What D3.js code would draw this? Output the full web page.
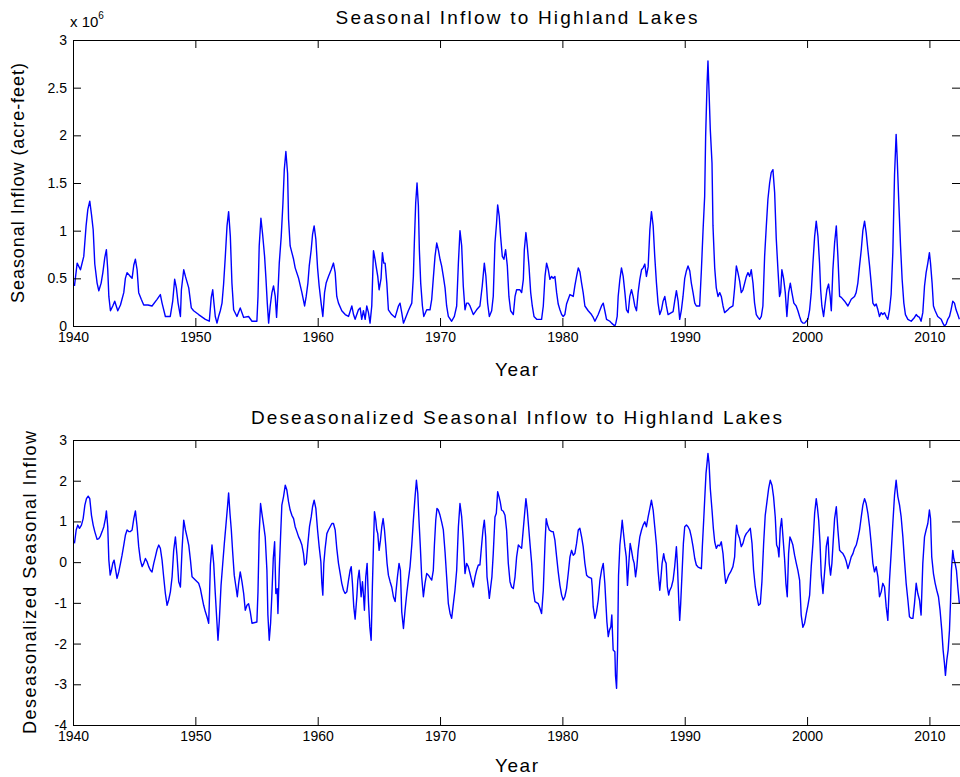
<!DOCTYPE html>
<html>
<head>
<meta charset="utf-8">
<script src="https://cdnjs.cloudflare.com/ajax/libs/d3/7.8.5/d3.min.js"></script>
<style>
  body { margin: 0; background: #fff; }
  svg text { font-family: "Liberation Sans", Arial, Helvetica, sans-serif; fill: #000; }
</style>
</head>
<body>
<div id="chart"></div>
<script>
// tick values
var yearTicks = [1940, 1950, 1960, 1970, 1980, 1990, 2000, 2010];
var inflowTicks = [0, 0.5, 1, 1.5, 2, 2.5, 3];
var deseasTicks = [-4, -3, -2, -1, 0, 1, 2, 3];

// seasonal inflow, [year, acre-feet x 10^6]
var inflow = [[1940.12,0.42],[1940.34,0.66],[1940.61,0.59],[1940.88,0.73],[1941.07,1.05],[1941.21,1.22],[1941.37,1.31],[1941.51,1.17],[1941.65,1.01],[1941.78,0.65],[1941.97,0.45],[1942.11,0.37],[1942.3,0.45],[1942.44,0.56],[1942.6,0.72],[1942.73,0.8],[1942.84,0.59],[1942.93,0.31],[1943.06,0.16],[1943.25,0.21],[1943.41,0.26],[1943.66,0.16],[1943.88,0.22],[1944.15,0.35],[1944.28,0.5],[1944.42,0.56],[1944.69,0.52],[1944.83,0.5],[1944.97,0.64],[1945.1,0.7],[1945.24,0.59],[1945.37,0.35],[1945.58,0.28],[1945.78,0.22],[1946.13,0.22],[1946.46,0.21],[1946.87,0.28],[1947.14,0.33],[1947.28,0.24],[1947.55,0.1],[1947.95,0.1],[1948.15,0.26],[1948.31,0.49],[1948.45,0.4],[1948.59,0.24],[1948.78,0.1],[1948.86,0.38],[1949.05,0.59],[1949.19,0.52],[1949.46,0.4],[1949.67,0.19],[1949.86,0.16],[1950.27,0.12],[1950.82,0.07],[1951.14,0.05],[1951.3,0.3],[1951.42,0.38],[1951.52,0.24],[1951.63,0.1],[1951.77,0.03],[1951.9,0.1],[1952.04,0.16],[1952.18,0.24],[1952.31,0.44],[1952.45,0.73],[1952.59,1.05],[1952.72,1.2],[1952.86,0.94],[1952.99,0.45],[1953.13,0.17],[1953.4,0.1],[1953.67,0.19],[1953.95,0.09],[1954.35,0.1],[1954.63,0.05],[1955.03,0.05],[1955.12,0.31],[1955.22,0.84],[1955.36,1.13],[1955.5,0.96],[1955.66,0.73],[1955.77,0.5],[1955.88,0.24],[1955.99,0.03],[1956.12,0.21],[1956.26,0.35],[1956.39,0.42],[1956.53,0.31],[1956.64,0.09],[1956.75,0.35],[1956.86,0.66],[1957.02,0.94],[1957.16,1.29],[1957.27,1.64],[1957.4,1.83],[1957.54,1.6],[1957.62,1.12],[1957.75,0.84],[1957.89,0.77],[1958.03,0.7],[1958.16,0.61],[1958.44,0.5],[1958.71,0.35],[1958.93,0.21],[1959.06,0.31],[1959.2,0.45],[1959.31,0.63],[1959.47,0.8],[1959.58,0.96],[1959.71,1.05],[1959.85,0.91],[1959.99,0.61],[1960.12,0.42],[1960.29,0.23],[1960.42,0.1],[1960.56,0.35],[1960.69,0.45],[1960.88,0.52],[1961.1,0.59],[1961.29,0.66],[1961.43,0.56],[1961.56,0.31],[1961.7,0.24],[1961.97,0.16],[1962.25,0.12],[1962.52,0.1],[1962.79,0.21],[1962.93,0.12],[1963.06,0.07],[1963.33,0.17],[1963.47,0.19],[1963.6,0.07],[1963.74,0.16],[1963.88,0.07],[1964.01,0.21],[1964.15,0.14],[1964.28,0.03],[1964.42,0.21],[1964.56,0.79],[1964.69,0.7],[1964.77,0.63],[1964.91,0.52],[1965.02,0.38],[1965.18,0.5],[1965.29,0.77],[1965.4,0.66],[1965.51,0.66],[1965.65,0.45],[1965.78,0.17],[1966.05,0.12],[1966.33,0.09],[1966.6,0.21],[1966.73,0.24],[1966.87,0.14],[1967.01,0.03],[1967.14,0.07],[1967.41,0.16],[1967.69,0.24],[1967.82,0.52],[1967.9,0.87],[1968.01,1.29],[1968.12,1.5],[1968.23,1.26],[1968.31,0.8],[1968.42,0.45],[1968.56,0.21],[1968.67,0.1],[1968.91,0.17],[1969.18,0.17],[1969.32,0.28],[1969.45,0.5],[1969.59,0.73],[1969.73,0.87],[1969.86,0.8],[1970,0.7],[1970.13,0.63],[1970.27,0.52],[1970.41,0.4],[1970.54,0.21],[1970.68,0.1],[1970.95,0.05],[1971.17,0.1],[1971.36,0.21],[1971.5,0.66],[1971.63,1],[1971.77,0.84],[1971.9,0.42],[1972.04,0.17],[1972.17,0.24],[1972.31,0.24],[1972.45,0.21],[1972.72,0.12],[1972.99,0.17],[1973.26,0.21],[1973.45,0.42],[1973.62,0.66],[1973.75,0.52],[1973.89,0.24],[1974.03,0.1],[1974.22,0.16],[1974.35,0.31],[1974.49,0.87],[1974.62,1.08],[1974.71,1.27],[1974.84,1.15],[1974.95,0.94],[1975.09,0.73],[1975.22,0.7],[1975.36,0.8],[1975.5,0.63],[1975.63,0.31],[1975.77,0.16],[1975.99,0.12],[1976.13,0.31],[1976.26,0.38],[1976.53,0.38],[1976.67,0.35],[1976.81,0.49],[1976.89,0.8],[1977.02,0.98],[1977.13,0.84],[1977.27,0.63],[1977.41,0.35],[1977.54,0.21],[1977.68,0.1],[1977.9,0.07],[1978.3,0.07],[1978.44,0.21],[1978.58,0.52],[1978.71,0.66],[1978.85,0.59],[1978.98,0.49],[1979.12,0.52],[1979.25,0.5],[1979.39,0.52],[1979.53,0.35],[1979.66,0.23],[1979.8,0.17],[1979.94,0.12],[1980.07,0.1],[1980.2,0.12],[1980.34,0.23],[1980.62,0.33],[1980.89,0.31],[1981.02,0.42],[1981.16,0.52],[1981.3,0.61],[1981.43,0.57],[1981.57,0.45],[1981.7,0.35],[1981.84,0.21],[1982.11,0.16],[1982.38,0.12],[1982.52,0.09],[1982.66,0.05],[1982.93,0.12],[1983.2,0.21],[1983.34,0.24],[1983.47,0.16],[1983.61,0.07],[1983.88,0.05],[1984.02,0.03],[1984.29,0],[1984.37,0.03],[1984.48,0.1],[1984.56,0.31],[1984.7,0.49],[1984.83,0.61],[1984.97,0.52],[1985.11,0.35],[1985.24,0.17],[1985.38,0.14],[1985.51,0.31],[1985.65,0.38],[1985.78,0.31],[1985.92,0.21],[1986.06,0.16],[1986.19,0.35],[1986.33,0.49],[1986.47,0.59],[1986.6,0.61],[1986.74,0.65],[1986.87,0.52],[1987.01,0.62],[1987.15,1.01],[1987.28,1.2],[1987.42,1.05],[1987.55,0.73],[1987.69,0.45],[1987.82,0.24],[1987.96,0.12],[1988.1,0.17],[1988.23,0.26],[1988.37,0.31],[1988.5,0.21],[1988.64,0.12],[1988.91,0.14],[1989.05,0.15],[1989.18,0.26],[1989.32,0.37],[1989.46,0.26],[1989.59,0.07],[1989.73,0.17],[1989.86,0.31],[1990,0.5],[1990.14,0.58],[1990.27,0.63],[1990.41,0.58],[1990.54,0.45],[1990.68,0.35],[1990.82,0.24],[1990.95,0.21],[1991.22,0.21],[1991.36,0.58],[1991.5,1.01],[1991.63,1.36],[1991.71,1.99],[1991.82,2.52],[1991.9,2.78],[1991.99,2.45],[1992.09,2.06],[1992.23,1.71],[1992.31,1.05],[1992.45,0.61],[1992.58,0.4],[1992.72,0.31],[1992.86,0.35],[1992.99,0.31],[1993.13,0.21],[1993.26,0.14],[1993.53,0.17],[1993.67,0.19],[1993.94,0.21],[1994.08,0.4],[1994.22,0.63],[1994.35,0.56],[1994.49,0.47],[1994.62,0.35],[1994.76,0.38],[1994.9,0.45],[1995.04,0.52],[1995.17,0.56],[1995.31,0.52],[1995.44,0.59],[1995.58,0.45],[1995.71,0.24],[1995.85,0.12],[1995.99,0.09],[1996.12,0.07],[1996.26,0.1],[1996.39,0.21],[1996.53,0.73],[1996.67,1.05],[1996.8,1.33],[1996.94,1.5],[1997.07,1.61],[1997.21,1.64],[1997.35,1.4],[1997.48,0.92],[1997.62,0.59],[1997.75,0.31],[1997.84,0.35],[1997.94,0.59],[1998.08,0.5],[1998.22,0.35],[1998.35,0.1],[1998.49,0.35],[1998.63,0.45],[1998.76,0.35],[1998.92,0.24],[1999.11,0.21],[1999.25,0.16],[1999.39,0.1],[1999.52,0.05],[1999.66,0.03],[1999.8,0.03],[1999.93,0.05],[2000.07,0.07],[2000.21,0.17],[2000.34,0.35],[2000.48,0.66],[2000.62,0.94],[2000.75,1.1],[2000.89,0.94],[2001.02,0.66],[2001.11,0.38],[2001.21,0.21],[2001.35,0.1],[2001.48,0.24],[2001.62,0.38],[2001.76,0.44],[2001.89,0.31],[2001.98,0.16],[2002.11,0.59],[2002.25,0.87],[2002.39,1.05],[2002.52,0.73],[2002.66,0.31],[2002.8,0.3],[2003.07,0.26],[2003.34,0.21],[2003.61,0.28],[2003.88,0.31],[2004.01,0.35],[2004.15,0.45],[2004.29,0.63],[2004.43,0.8],[2004.56,1],[2004.7,1.1],[2004.83,0.98],[2004.97,0.8],[2005.11,0.63],[2005.24,0.45],[2005.38,0.24],[2005.52,0.21],[2005.65,0.23],[2005.79,0.17],[2005.92,0.1],[2006.06,0.14],[2006.19,0.12],[2006.33,0.14],[2006.47,0.1],[2006.6,0.07],[2006.74,0.17],[2006.87,0.33],[2007.01,0.77],[2007.15,1.59],[2007.28,2.01],[2007.36,1.78],[2007.5,1.29],[2007.64,0.84],[2007.77,0.49],[2007.91,0.24],[2008.04,0.12],[2008.24,0.07],[2008.51,0.05],[2008.78,0.09],[2008.92,0.12],[2009.05,0.1],[2009.19,0.09],[2009.32,0.05],[2009.46,0.14],[2009.6,0.42],[2009.73,0.56],[2009.87,0.66],[2010,0.77],[2010.09,0.66],[2010.22,0.45],[2010.33,0.21],[2010.47,0.16],[2010.68,0.1],[2010.96,0.07],[2011.1,0.03],[2011.23,0],[2011.37,0.02],[2011.5,0.07],[2011.64,0.1],[2011.77,0.17],[2011.91,0.26],[2012.05,0.24],[2012.18,0.17],[2012.32,0.12],[2012.45,0.07]];

// deseasonalized inflow, [year, value]
var deseasonalized = [[1940.12,0.46],[1940.26,0.79],[1940.39,0.91],[1940.53,0.83],[1940.69,0.91],[1940.83,1.07],[1940.97,1.4],[1941.1,1.56],[1941.24,1.62],[1941.37,1.56],[1941.51,1.15],[1941.65,0.91],[1941.78,0.75],[1941.97,0.56],[1942.11,0.58],[1942.24,0.64],[1942.38,0.75],[1942.52,0.87],[1942.65,1.07],[1942.73,1.26],[1942.84,0.87],[1942.93,0.05],[1943.04,-0.32],[1943.14,-0.2],[1943.25,-0.03],[1943.36,0.05],[1943.47,-0.16],[1943.6,-0.4],[1943.74,-0.24],[1943.88,-0.03],[1944.01,0.17],[1944.15,0.42],[1944.28,0.66],[1944.42,0.79],[1944.56,0.75],[1944.69,0.75],[1944.83,0.79],[1944.97,1.07],[1945.1,1.26],[1945.24,0.87],[1945.37,0.38],[1945.51,0.05],[1945.65,-0.11],[1945.78,-0.03],[1945.92,0.09],[1946.06,0.01],[1946.19,-0.11],[1946.33,-0.2],[1946.46,-0.24],[1946.6,-0.03],[1946.73,0.13],[1946.87,0.31],[1947.01,0.42],[1947.14,0.34],[1947.28,0.05],[1947.41,-0.36],[1947.55,-0.77],[1947.69,-1.06],[1947.82,-0.93],[1947.96,-0.73],[1948.1,-0.36],[1948.23,0.29],[1948.37,0.62],[1948.5,0.17],[1948.64,-0.48],[1948.78,-0.61],[1948.91,0.29],[1949.05,1.03],[1949.19,0.79],[1949.32,0.62],[1949.46,0.42],[1949.6,0.05],[1949.73,-0.36],[1950,-0.44],[1950.27,-0.52],[1950.41,-0.65],[1950.54,-0.85],[1950.68,-1.06],[1950.82,-1.22],[1950.95,-1.34],[1951.09,-1.5],[1951.14,-1.02],[1951.23,-0.07],[1951.36,0.42],[1951.5,-0.03],[1951.63,-0.77],[1951.77,-1.5],[1951.85,-1.92],[1951.96,-1.43],[1952.1,-0.57],[1952.23,-0.07],[1952.37,0.46],[1952.5,0.91],[1952.64,1.4],[1952.72,1.7],[1952.83,1.2],[1952.94,0.79],[1953.05,0.25],[1953.18,-0.32],[1953.32,-0.61],[1953.43,-0.85],[1953.54,-0.52],[1953.67,-0.24],[1953.81,-0.48],[1953.95,-0.77],[1954.08,-1.18],[1954.22,-1.06],[1954.35,-1.02],[1954.49,-1.22],[1954.63,-1.5],[1955.03,-1.47],[1955.12,-0.73],[1955.22,0.7],[1955.33,1.44],[1955.44,1.2],[1955.58,0.91],[1955.71,0.62],[1955.85,-0.2],[1955.93,-1.3],[1956.04,-1.92],[1956.15,-1.5],[1956.26,-0.77],[1956.37,0.09],[1956.48,0.5],[1956.58,-0.77],[1956.69,-0.65],[1956.75,-1.26],[1956.86,-0.2],[1956.97,0.66],[1957.07,1.4],[1957.21,1.61],[1957.35,1.89],[1957.48,1.77],[1957.62,1.48],[1957.75,1.28],[1957.89,1.15],[1958.03,1.07],[1958.16,0.87],[1958.3,0.75],[1958.44,0.62],[1958.57,0.54],[1958.71,0.42],[1958.84,0.21],[1958.93,-0.07],[1959.06,-0.03],[1959.2,0.46],[1959.33,0.87],[1959.47,1.11],[1959.58,1.36],[1959.71,1.52],[1959.85,1.32],[1959.99,0.79],[1960.12,0.38],[1960.26,0.01],[1960.34,-0.52],[1960.42,-0.81],[1960.5,-0.03],[1960.61,0.34],[1960.75,0.7],[1960.88,0.79],[1961.02,0.87],[1961.16,0.95],[1961.29,0.95],[1961.43,0.79],[1961.56,0.34],[1961.7,-0.03],[1961.84,-0.28],[1961.97,-0.52],[1962.11,-0.69],[1962.24,-0.77],[1962.38,-0.73],[1962.52,-0.44],[1962.65,-0.2],[1962.74,-0.11],[1962.84,-0.52],[1962.95,-1.1],[1963.06,-1.4],[1963.2,-0.85],[1963.28,-0.44],[1963.39,-0.2],[1963.47,-0.5],[1963.55,-0.85],[1963.66,-0.48],[1963.74,-0.8],[1963.82,-1.18],[1963.93,-0.36],[1964.04,-0.03],[1964.15,-0.97],[1964.26,-1.59],[1964.37,-1.92],[1964.47,-0.61],[1964.56,0.42],[1964.64,1.24],[1964.75,1.03],[1964.83,0.79],[1964.91,0.7],[1965.02,0.29],[1965.13,0.54],[1965.24,0.87],[1965.35,1.07],[1965.46,0.79],[1965.56,0.42],[1965.67,-0.03],[1965.78,-0.32],[1965.92,-0.48],[1966.05,-0.61],[1966.19,-0.85],[1966.33,-0.97],[1966.41,-0.69],[1966.52,-0.36],[1966.65,-0.03],[1966.76,-0.2],[1966.87,-1.22],[1967.01,-1.63],[1967.14,-1.18],[1967.28,-0.77],[1967.41,-0.44],[1967.55,-0.11],[1967.69,0.42],[1967.82,1.03],[1967.96,1.61],[1968.07,2.01],[1968.18,1.69],[1968.28,1.03],[1968.39,0.38],[1968.5,-0.36],[1968.64,-0.85],[1968.77,-0.52],[1968.91,-0.28],[1969.05,-0.32],[1969.18,-0.38],[1969.32,-0.44],[1969.45,-0.2],[1969.54,0.42],[1969.65,1.03],[1969.75,1.32],[1969.86,1.28],[1970,1.15],[1970.13,0.99],[1970.27,0.79],[1970.41,0.25],[1970.54,-0.36],[1970.68,-1.02],[1970.82,-1.26],[1970.95,-1.38],[1971.09,-1.02],[1971.22,-0.69],[1971.36,-0.2],[1971.5,0.87],[1971.63,1.44],[1971.77,1.11],[1971.9,0.54],[1972.04,-0.28],[1972.17,-0.03],[1972.31,-0.11],[1972.45,-0.28],[1972.58,-0.44],[1972.72,-0.61],[1972.86,-0.36],[1972.99,-0.2],[1973.13,-0.07],[1973.26,-0.07],[1973.4,0.42],[1973.51,0.79],[1973.62,1.03],[1973.73,0.62],[1973.84,-0.36],[1973.94,-0.61],[1974.03,-0.89],[1974.14,-0.61],[1974.24,-0.36],[1974.35,0.21],[1974.49,1.11],[1974.6,1.2],[1974.71,1.73],[1974.82,1.61],[1974.92,1.48],[1975.03,1.28],[1975.17,1.25],[1975.31,1.15],[1975.44,0.79],[1975.58,-0.03],[1975.72,-0.48],[1975.85,-0.61],[1975.99,-0.65],[1976.13,-0.36],[1976.26,0.13],[1976.4,0.42],[1976.53,0.38],[1976.67,0.34],[1976.75,0.62],[1976.89,1.11],[1977.02,1.56],[1977.13,1.28],[1977.24,0.87],[1977.35,0.46],[1977.49,-0.03],[1977.62,-0.69],[1977.76,-0.97],[1978.03,-1.02],[1978.17,-1.14],[1978.3,-1.26],[1978.44,-0.69],[1978.58,0.46],[1978.68,1.07],[1978.79,0.91],[1978.93,0.79],[1979.12,0.75],[1979.25,0.75],[1979.39,0.54],[1979.53,0.13],[1979.66,-0.24],[1979.8,-0.57],[1979.94,-0.81],[1980.07,-0.93],[1980.2,-0.85],[1980.34,-0.65],[1980.48,-0.28],[1980.62,0.13],[1980.75,0.29],[1980.89,0.17],[1981.02,0.21],[1981.16,0.46],[1981.3,0.79],[1981.43,0.83],[1981.57,0.62],[1981.7,0.38],[1981.84,-0.03],[1981.98,-0.32],[1982.11,-0.36],[1982.38,-0.4],[1982.44,-0.61],[1982.52,-1.1],[1982.66,-1.38],[1982.79,-1.22],[1982.93,-0.93],[1983.07,-0.44],[1983.2,-0.2],[1983.34,-0.03],[1983.47,-0.52],[1983.55,-0.97],[1983.64,-1.47],[1983.75,-1.83],[1983.85,-1.67],[1983.96,-1.59],[1984.04,-1.3],[1984.15,-2.16],[1984.29,-2.2],[1984.34,-2.78],[1984.43,-3.1],[1984.51,-2.16],[1984.59,-0.32],[1984.7,0.42],[1984.81,0.75],[1984.89,1.03],[1984.97,0.79],[1985.11,0.38],[1985.22,0.13],[1985.32,-0.57],[1985.43,-0.03],[1985.54,0.46],[1985.65,0.29],[1985.76,0.09],[1985.87,-0.03],[1985.98,-0.36],[1986.09,-0.11],[1986.19,0.29],[1986.33,0.62],[1986.47,0.79],[1986.6,0.91],[1986.74,0.99],[1986.87,0.87],[1987.01,1.11],[1987.15,1.32],[1987.28,1.52],[1987.42,1.28],[1987.55,0.87],[1987.69,0.42],[1987.82,-0.2],[1987.96,-0.69],[1988.04,-0.44],[1988.15,-0.03],[1988.28,0.21],[1988.37,0.05],[1988.48,-0.03],[1988.58,-0.61],[1988.69,-0.81],[1988.77,-0.7],[1988.91,-0.61],[1989.05,-0.44],[1989.18,-0.11],[1989.32,0.38],[1989.4,-0.03],[1989.51,-0.93],[1989.59,-1.43],[1989.67,-1.02],[1989.78,-0.28],[1989.89,0.46],[1990,0.87],[1990.14,0.91],[1990.27,0.87],[1990.41,0.79],[1990.54,0.62],[1990.68,0.38],[1990.82,0.09],[1990.95,-0.07],[1991.09,-0.12],[1991.36,-0.16],[1991.44,0.38],[1991.55,1.03],[1991.63,1.52],[1991.74,2.18],[1991.82,2.42],[1991.9,2.67],[1991.99,2.42],[1992.09,1.81],[1992.23,1.28],[1992.34,0.83],[1992.45,0.5],[1992.58,0.34],[1992.72,0.42],[1992.86,0.4],[1992.99,0.5],[1993.13,0.21],[1993.26,-0.28],[1993.35,-0.52],[1993.45,-0.44],[1993.59,-0.32],[1993.75,-0.24],[1993.94,-0.11],[1994.08,0.13],[1994.16,0.62],[1994.24,0.91],[1994.35,0.7],[1994.49,0.58],[1994.62,0.38],[1994.76,0.46],[1994.9,0.62],[1995.03,0.7],[1995.17,0.75],[1995.36,0.83],[1995.5,0.46],[1995.63,-0.2],[1995.77,-0.61],[1995.9,-0.85],[1996.04,-1.06],[1996.18,-1.02],[1996.31,-0.48],[1996.45,0.46],[1996.58,1.15],[1996.72,1.48],[1996.86,1.81],[1996.99,2.01],[1997.13,1.89],[1997.26,1.61],[1997.4,1.11],[1997.51,0.42],[1997.62,0.34],[1997.7,0.13],[1997.81,0.83],[1997.92,1.07],[1998.03,0.62],[1998.16,0.09],[1998.27,-0.52],[1998.38,-0.85],[1998.49,0.21],[1998.6,0.62],[1998.71,0.54],[1998.84,0.42],[1998.98,0.17],[1999.12,-0.03],[1999.25,-0.2],[1999.39,-0.44],[1999.52,-1.3],[1999.66,-1.6],[1999.8,-1.5],[1999.94,-1.26],[2000.07,-1.06],[2000.21,-0.81],[2000.34,-0.11],[2000.48,0.46],[2000.62,1.2],[2000.75,1.56],[2000.84,1.36],[2000.95,1.03],[2001.06,0.46],[2001.16,-0.32],[2001.3,-0.77],[2001.38,-0.44],[2001.49,-0.03],[2001.57,0.38],[2001.71,0.62],[2001.81,-0.03],[2001.92,-0.32],[2002.03,-0.03],[2002.14,0.54],[2002.25,1.07],[2002.39,1.36],[2002.52,0.79],[2002.66,0.29],[2002.79,0.25],[2002.93,0.21],[2003.07,0.13],[2003.2,0.02],[2003.34,-0.16],[2003.47,-0.03],[2003.61,0.13],[2003.75,0.21],[2003.88,0.34],[2004.02,0.42],[2004.15,0.58],[2004.29,0.79],[2004.43,1.11],[2004.56,1.4],[2004.7,1.56],[2004.83,1.44],[2004.97,1.2],[2005.11,0.87],[2005.24,0.46],[2005.38,-0.03],[2005.51,-0.24],[2005.65,-0.11],[2005.79,-0.36],[2005.92,-0.85],[2006.06,-0.73],[2006.19,-0.52],[2006.33,-0.61],[2006.47,-1.1],[2006.6,-1.43],[2006.74,-0.44],[2006.87,0.21],[2007.01,0.95],[2007.15,1.65],[2007.28,2.01],[2007.42,1.61],[2007.56,1.4],[2007.69,1.11],[2007.83,0.62],[2007.96,0.05],[2008.1,-0.52],[2008.24,-0.93],[2008.37,-1.34],[2008.51,-1.38],[2008.65,-1.38],[2008.78,-1.02],[2008.92,-0.52],[2009.05,-0.77],[2009.19,-0.93],[2009.32,-1.3],[2009.46,-0.03],[2009.6,0.62],[2009.73,0.79],[2009.87,0.95],[2010,1.28],[2010.09,1.07],[2010.19,0.13],[2010.33,-0.28],[2010.47,-0.52],[2010.6,-0.69],[2010.74,-0.85],[2010.87,-1.18],[2011.01,-1.67],[2011.12,-2.16],[2011.23,-2.49],[2011.31,-2.78],[2011.42,-2.41],[2011.53,-2.16],[2011.64,-1.67],[2011.72,-1.02],[2011.8,-0.2],[2011.91,0.29],[2011.99,0.09],[2012.1,-0.03],[2012.21,-0.2],[2012.32,-0.61],[2012.45,-1.02]];

var width = 960, height = 777;
var left = 73, right = 960;
var fontFamily = '"Liberation Sans", Arial, Helvetica, sans-serif';

var svg = d3.select('#chart').append('svg')
    .attr('width', width).attr('height', height);

var x = d3.scaleLinear().domain([1940, 2012.5]).range([left, right]);

function drawPanel(cfg) {
  var y = d3.scaleLinear().domain(cfg.domain).range([cfg.bottom, cfg.top]);
  var g = svg.append('g');

  g.append('clipPath').attr('id', cfg.id).append('rect')
      .attr('x', left).attr('y', cfg.top)
      .attr('width', right - left).attr('height', cfg.bottom - cfg.top);

  g.append('path').datum(cfg.data)
      .attr('clip-path', 'url(#' + cfg.id + ')')
      .attr('fill', 'none')
      .attr('stroke', '#0000ff')
      .attr('stroke-width', 1.4)
      .attr('stroke-linejoin', 'round')
      .attr('d', d3.line().x(function(d) { return x(d[0]); }).y(function(d) { return y(d[1]); }));

  // MATLAB style box, ticks pointing inward on all four sides
  var axes = [
    { axis: d3.axisBottom(x).tickValues(yearTicks).tickFormat(d3.format('d')), t: 'translate(0,' + cfg.bottom + ')' },
    { axis: d3.axisTop(x).tickValues(yearTicks).tickFormat(''), t: 'translate(0,' + cfg.top + ')' },
    { axis: d3.axisLeft(y).tickValues(cfg.ticks).tickFormat(String), t: 'translate(' + left + ',0)' },
    { axis: d3.axisRight(y).tickValues(cfg.ticks).tickFormat(''), t: 'translate(' + right + ',0)' }
  ];
  axes.forEach(function(a) {
    g.append('g').attr('transform', a.t)
        .call(a.axis.tickSizeInner(-8).tickSizeOuter(0).tickPadding(6))
        .attr('font-size', 14).attr('font-family', fontFamily)
        .call(function(s) {
          s.selectAll('line, path').attr('stroke', '#000');
          s.selectAll('text').attr('fill', '#000');
        });
  });

  g.append('text')
      .attr('x', (left + right) / 2).attr('y', cfg.top - 16)
      .attr('text-anchor', 'middle').attr('font-size', 19)
      .attr('textLength', cfg.titleWidth).attr('lengthAdjust', 'spacing')
      .text(cfg.title);

  g.append('text')
      .attr('x', (left + right) / 2).attr('y', cfg.bottom + cfg.yearDy)
      .attr('text-anchor', 'middle').attr('font-size', 19)
      .attr('textLength', 43).attr('lengthAdjust', 'spacing')
      .text('Year');

  g.append('text')
      .attr('transform', 'translate(' + cfg.ylabelX + ',' + (cfg.top + cfg.bottom) / 2 + ') rotate(-90)')
      .attr('text-anchor', 'middle').attr('font-size', 18)
      .attr('textLength', cfg.ylabelWidth).attr('lengthAdjust', 'spacing')
      .text(cfg.ylabel);

  return y;
}

drawPanel({
  id: 'clipTop', data: inflow, domain: [0, 3], ticks: inflowTicks,
  top: 40, bottom: 326, yearDy: 50,
  title: 'Seasonal Inflow to Highland Lakes', titleWidth: 362,
  ylabel: 'Seasonal Inflow (acre-feet)', ylabelWidth: 240, ylabelX: 24
});

// exponent label of the top axis
var expo = svg.append('text').attr('x', 70).attr('y', 27).attr('font-size', 15);
expo.append('tspan').text('x 10');
expo.append('tspan').attr('dy', -8).attr('font-size', 10).text('6');

drawPanel({
  id: 'clipBottom', data: deseasonalized, domain: [-4, 3], ticks: deseasTicks,
  top: 440, bottom: 725, yearDy: 47,
  title: 'Deseasonalized Seasonal Inflow to Highland Lakes', titleWidth: 531,
  ylabel: 'Deseasonalized Seasonal Inflow', ylabelWidth: 303, ylabelX: 36
});
</script>
</body>
</html>
